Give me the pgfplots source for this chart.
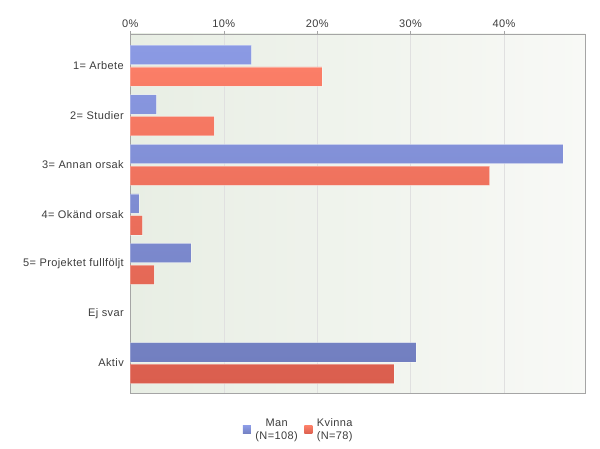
\documentclass[border=0pt]{standalone}
\usepackage{pgfplots}
\pgfplotsset{compat=1.18}
\usetikzlibrary{calc}
\usepackage{fontspec}
\setmainfont{Liberation Sans}[LetterSpace=3.5]
\definecolor{blueT}{RGB}{139,154,228}
\definecolor{blueB}{RGB}{114,127,192}
\definecolor{redT}{RGB}{251,126,103}
\definecolor{redB}{RGB}{218,94,78}
\definecolor{bgL}{RGB}{232,238,228}
\definecolor{bgR}{RGB}{248,249,246}
\definecolor{txt}{RGB}{60,60,60}
\definecolor{frame}{RGB}{165,165,165}
\begin{document}
\begin{tikzpicture}
\begin{axis}[scale only axis,
  width=455pt, height=359pt,
  xbar, xmin=0, xmax=48.7, ymin=-0.605, ymax=6.64,
  bar width=19.3pt,
  xtick={0,10,20,30,40}, xticklabels={0\%,10\%,20\%,30\%,40\%},
  xticklabel pos=upper, xtick pos=upper, tick align=outside, major tick length=3pt,
  ytick={0,...,6},
  yticklabels={Aktiv, Ej svar, 5= Projektet fullföljt, 4= Okänd orsak, 3= Annan orsak, 2= Studier, 1= Arbete},
  ytick style={draw=none},
  xmajorgrids, grid style={color=black!12},
  axis line style={color=frame},
  tick style={color=frame},
  axis background/.style={left color=bgL, right color=bgR},
  ticklabel style={font=\fontsize{11}{13}\selectfont, text=txt},
  legend style={at={(0.373,-0.06)}, anchor=north, draw=none, fill=none,
    legend columns=2, font=\fontsize{11}{13}\selectfont, text=txt,
    nodes={align=center, inner xsep=4.5pt},
    /tikz/every even column/.append style={column sep=2pt}},
  legend image code/.code={\path[#1,draw=none] (0pt,-4pt) rectangle (8pt,4pt);},
]
\addplot[draw=white, draw opacity=0.35, line width=0.6pt, top color=blueT, bottom color=blueB, bar shift=10.85pt] coordinates {
(12.96,6) (2.78,5) (46.30,4) (0.93,3) (6.48,2) (30.56,0)};
\addlegendentry{Man\\(N=108)}
\addplot[draw=white, draw opacity=0.35, line width=0.6pt, top color=redT, bottom color=redB, bar shift=-10.85pt] coordinates {
(20.51,6) (8.97,5) (38.46,4) (1.28,3) (2.56,2) (28.21,0)};
\addlegendentry{Kvinna\\(N=78)}
\coordinate (TL) at (rel axis cs:0,1);
\coordinate (BR) at (rel axis cs:1,0);
\end{axis}
\pgfresetboundingbox
\path[use as bounding box] ($(TL)+(-130.3pt,34pt)$) rectangle ($(BR)+(14.7pt,-55pt)$);
\end{tikzpicture}
\end{document}
